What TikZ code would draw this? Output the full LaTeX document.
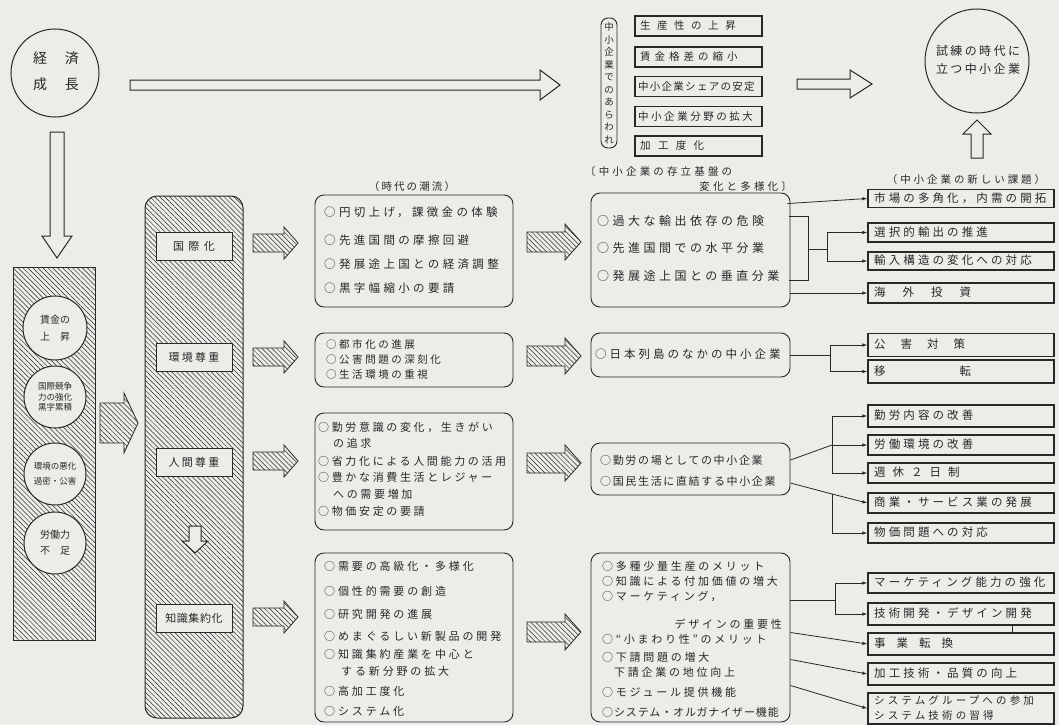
\documentclass[tikz,border=0pt]{standalone}
\usepackage{fontspec}
\newfontfamily\jp{Noto Sans CJK JP}
\usetikzlibrary{patterns.meta,arrows.meta,calc}
\definecolor{bg}{RGB}{236,236,233}
\definecolor{ink}{RGB}{40,40,40}
\newcommand\fsz[1]{\fontsize{#1}{#1}\selectfont}
\newcommand\lsp[1]{\addfontfeatures{LetterSpace=#1}}
% block arrows: style, x tail, x tip, y centre, half shaft, head length, half head
\newcommand\blkR[7]{\path[#1] ({#2},{#4-#5}) -- ({#3-#6},{#4-#5}) -- ({#3-#6},{#4-#7}) -- ({#3},{#4}) -- ({#3-#6},{#4+#7}) -- ({#3-#6},{#4+#5}) -- ({#2},{#4+#5}) -- cycle;}
% style, x centre, y tail, y tip, half shaft, head length, half head
\newcommand\blkD[7]{\path[#1] ({#2-#5},{#3}) -- ({#2-#5},{#4-#6}) -- ({#2-#7},{#4-#6}) -- ({#2},{#4}) -- ({#2+#7},{#4-#6}) -- ({#2+#5},{#4-#6}) -- ({#2+#5},{#3}) -- cycle;}
\newcommand\blkU[7]{\path[#1] ({#2-#5},{#3}) -- ({#2-#5},{#4+#6}) -- ({#2-#7},{#4+#6}) -- ({#2},{#4}) -- ({#2+#7},{#4+#6}) -- ({#2+#5},{#4+#6}) -- ({#2+#5},{#3}) -- cycle;}
\begin{document}
\begin{tikzpicture}[x=1pt,y=-1pt,
 ln/.style={anchor=west,inner sep=0pt,text=ink,text height=9pt,text depth=1.5pt},
 ctr/.style={inner sep=0pt,text=ink,text height=9pt,text depth=1.5pt},
 rbox/.style={draw=ink,line width=0.9pt,rounded corners=9pt,fill=bg,inner sep=0pt},
 kbox/.style={draw=ink,line width=1.3pt,fill=bg,inner sep=0pt,minimum width=186pt},
 tbox/.style={draw=ink,line width=1.3pt,fill=bg,inner sep=0pt,minimum width=127pt,minimum height=20pt},
 conn/.style={draw=ink,line width=0.8pt,-{Latex[length=5pt,width=3.5pt]}},
 lnk/.style={draw=ink,line width=0.8pt},
 hatch/.style={draw=ink,line width=0.8pt,pattern={Lines[angle=-45,distance=3.5pt,line width=0.5pt]},pattern color=ink},
 oarrow/.style={draw=ink,line width=1pt,fill=bg,line join=miter},
 circ/.style={circle,draw=ink,line width=1pt,fill=bg,inner sep=0pt},
]
\fill[bg] (0,0) rectangle (1059,725);
\useasboundingbox (0,0) rectangle (1059,725);

% ---------- top row ----------
\node[circ,minimum size=88pt] (keizai) at (55,73) {};
\node[ctr,font=\jp\fsz{14}] (keizai1) at (56,60) {経\hspace{18pt}済};
\node[ctr,font=\jp\fsz{14}] (keizai2) at (56,86) {成\hspace{18pt}長};

\blkR{oarrow}{130}{560}{85}{5}{20}{15}

\node[rbox,rounded corners=7pt,minimum width=16pt,minimum height=130pt] (arawa) at (609,83) {};
\node[inner sep=0pt,text=ink,align=center,font=\jp\fontsize{9.5}{12.5}\selectfont] (arawaT) at (arawa) {中\\小\\企\\業\\で\\の\\あ\\ら\\わ\\れ};

\node[tbox] (s1) at (698.5,26) {};
\node[tbox] (s2) at (698.5,57) {};
\node[tbox] (s3) at (698.5,86.5) {};
\node[tbox] (s4) at (698.5,116.5) {};
\node[tbox] (s5) at (698.5,146) {};
\node[ln,font=\jp\fsz{10.5}\lsp{62}] (s1t) at (640,26) {生産性の上昇};
\node[ln,font=\jp\fsz{10.5}\lsp{38}] (s2t) at (640,57) {賃金格差の縮小};
\node[ln,font=\jp\fsz{10.5}\lsp{12}] (s3t) at (638,86.5) {中小企業シェアの安定};
\node[ln,font=\jp\fsz{10.5}\lsp{24}] (s4t) at (638,116.5) {中小企業分野の拡大};
\node[ln,font=\jp\fsz{10.5}\lsp{70}] (s5t) at (640,146) {加工度化};

\blkR{oarrow}{797}{872}{84}{5}{22}{14}

\node[circ,minimum size=104pt] (shiren) at (977,61) {};
\node[ctr,font=\jp\fsz{12}\lsp{20}] (shiren1) at (978,52) {試練の時代に};
\node[ctr,font=\jp\fsz{12}\lsp{20}] (shiren2) at (978,70) {立つ中小企業};

\blkU{oarrow}{977}{158}{120}{6}{14}{14}

% ---------- left column ----------
\blkD{oarrow}{57}{132}{258}{7}{22}{15}
\node[hatch,line width=1pt,minimum width=82pt,minimum height=373pt] (leftcol) at (54,453.5) {};
\node[circ,minimum size=64pt] (c1) at (55,328) {};
\node[circ,minimum size=62pt] (c2) at (55,397) {};
\node[circ,minimum size=62pt] (c3) at (55,474) {};
\node[circ,minimum size=62pt] (c4) at (55,543) {};
\node[inner sep=0pt,text=ink,align=center,font=\jp\fontsize{10}{17}\selectfont] (c1t) at (c1) {賃金の\\上\hspace{10pt}昇};
\node[inner sep=0pt,text=ink,align=center,font=\jp\fontsize{8.5}{10.5}\selectfont] (c2t) at (c2) {国際競争\\力の強化\\黒字累積};
\node[inner sep=0pt,text=ink,align=center,font=\jp\fontsize{8.5}{15}\selectfont] (c3t) at (c3) {環境の悪化\\過密・公害};
\node[inner sep=0pt,text=ink,align=center,font=\jp\fontsize{10}{16}\selectfont] (c4t) at (c4) {労働力\\不\hspace{10pt}足};

\blkR{hatch}{100}{138}{423}{20}{14}{30}

% ---------- second column ----------
\node[hatch,line width=1pt,rounded corners=12pt,minimum width=98pt,minimum height=522pt] (col2) at (194,457) {};
\node[draw=ink,line width=1pt,fill=bg,minimum width=76pt,minimum height=28pt,inner sep=0pt,text=ink,font=\jp\fsz{11}\lsp{40}] (lab1) at (194,246) {国際化};
\node[draw=ink,line width=1pt,fill=bg,minimum width=76pt,minimum height=28pt,inner sep=0pt,text=ink,font=\jp\fsz{11}\lsp{20}] (lab2) at (194,357) {環境尊重};
\node[draw=ink,line width=1pt,fill=bg,minimum width=76pt,minimum height=28pt,inner sep=0pt,text=ink,font=\jp\fsz{11}\lsp{20}] (lab3) at (194,462) {人間尊重};
\node[draw=ink,line width=1pt,fill=bg,minimum width=76pt,minimum height=28pt,inner sep=0pt,text=ink,font=\jp\fsz{11}\lsp{5}] (lab4) at (194,618) {知識集約化};
\blkD{oarrow}{195}{526}{553}{6}{12}{13}

\blkR{hatch}{253}{298}{243}{9}{14}{16}
\blkR{hatch}{253}{298}{357}{9}{14}{16}
\blkR{hatch}{253}{298}{461}{9}{14}{16}
\blkR{hatch}{253}{298}{617}{9}{14}{16}

% ---------- third column ----------
\node[ctr,font=\jp\fsz{10.5}\lsp{20}] (title3) at (412,187) {（時代の潮流）};
\node[rbox,minimum width=198pt,minimum height=112pt] (t1) at (414,251) {};
\node[ln,font=\jp\fsz{11.5}\lsp{29}] (t1a) at (324,213) {○円切上げ，課徴金の体験};
\node[ln,font=\jp\fsz{11.5}\lsp{29}] (t1b) at (324,241) {○先進国間の摩擦回避};
\node[ln,font=\jp\fsz{11.5}\lsp{29}] (t1c) at (324,265) {○発展途上国との経済調整};
\node[ln,font=\jp\fsz{11.5}\lsp{29}] (t1d) at (324,289) {○黒字幅縮小の要請};

\node[rbox,minimum width=198pt,minimum height=54pt] (t2) at (414,360) {};
\node[ln,font=\jp\fsz{10.5}\lsp{24}] (t2a) at (326,345) {○都市化の進展};
\node[ln,font=\jp\fsz{10.5}\lsp{24}] (t2b) at (326,360) {○公害問題の深刻化};
\node[ln,font=\jp\fsz{10.5}\lsp{24}] (t2c) at (326,375) {○生活環境の重視};

\node[rbox,minimum width=198pt,minimum height=117pt] (t3) at (414,471.5) {};
\node[ln,font=\jp\fsz{11}\lsp{24}] (t3a) at (318,428) {○勤労意識の変化，生きがい};
\node[ln,font=\jp\fsz{11}\lsp{24}] (t3b) at (333,444) {の追求};
\node[ln,font=\jp\fsz{11}\lsp{24}] (t3c) at (318,462) {○省力化による人間能力の活用};
\node[ln,font=\jp\fsz{11}\lsp{24}] (t3d) at (318,478) {○豊かな消費生活とレジャー};
\node[ln,font=\jp\fsz{11}\lsp{24}] (t3e) at (333,495) {への需要増加};
\node[ln,font=\jp\fsz{11}\lsp{24}] (t3f) at (318,512) {○物価安定の要請};

\node[rbox,minimum width=198pt,minimum height=169pt] (t4) at (414,637.5) {};
\node[ln,font=\jp\fsz{11}\lsp{26}] (t4a) at (324,567) {○需要の高級化・多様化};
\node[ln,font=\jp\fsz{11}\lsp{26}] (t4b) at (324,592) {○個性的需要の創造};
\node[ln,font=\jp\fsz{11}\lsp{26}] (t4c) at (324,615) {○研究開発の進展};
\node[ln,font=\jp\fsz{11}\lsp{26}] (t4d) at (324,637) {○めまぐるしい新製品の開発};
\node[ln,font=\jp\fsz{11}\lsp{26}] (t4e) at (324,655) {○知識集約産業を中心と};
\node[ln,font=\jp\fsz{11}\lsp{26}] (t4f) at (341,672) {する新分野の拡大};
\node[ln,font=\jp\fsz{11}\lsp{26}] (t4g) at (324,692) {○高加工度化};
\node[ln,font=\jp\fsz{11}\lsp{26}] (t4h) at (324,712) {○システム化};

\blkR{hatch}{527}{581}{242}{10}{16}{18}
\blkR{hatch}{527}{581}{356}{10}{16}{18}
\blkR{hatch}{527}{581}{463}{10}{16}{18}
\blkR{hatch}{527}{581}{632}{10}{16}{18}

% ---------- fourth column ----------
\node[ln,font=\jp\fsz{10.5}\lsp{30}] (title4a) at (585,172) {〔中小企業の存立基盤の};
\node[ctr,anchor=east,font=\jp\fsz{10.5}\lsp{30}] (title4b) at (792,187) {変化と多様化〕};

\node[rbox,minimum width=199pt,minimum height=114pt] (f1) at (690.5,250) {};
\node[ln,font=\jp\fsz{12}\lsp{29}] (f1a) at (597,222) {○過大な輸出依存の危険};
\node[ln,font=\jp\fsz{12}\lsp{29}] (f1b) at (597,249) {○先進国間での水平分業};
\node[ln,font=\jp\fsz{12}\lsp{29}] (f1c) at (597,277) {○発展途上国との垂直分業};

\node[rbox,minimum width=199pt,minimum height=44pt] (f2) at (690.5,355) {};
\node[ln,font=\jp\fsz{11.5}\lsp{26}] (f2a) at (595,355) {○日本列島のなかの中小企業};

\node[rbox,minimum width=199pt,minimum height=52pt] (f3) at (690.5,469) {};
\node[ln,font=\jp\fsz{11}\lsp{15}] (f3a) at (600,461) {○勤労の場としての中小企業};
\node[ln,font=\jp\fsz{11}\lsp{15}] (f3b) at (600,482) {○国民生活に直結する中小企業};

\node[rbox,minimum width=199pt,minimum height=169pt] (f4) at (690.5,637.5) {};
\node[ln,font=\jp\fsz{11}\lsp{25}] (f4a) at (602,567) {○多種少量生産のメリット};
\node[ln,font=\jp\fsz{11}\lsp{25}] (f4b) at (602,582) {○知識による付加価値の増大};
\node[ln,font=\jp\fsz{11}\lsp{25}] (f4c) at (602,597) {○マーケティング，};
\node[ctr,anchor=east,font=\jp\fsz{11}\lsp{25}] (f4d) at (782,625) {デザインの重要性};
\node[ln,font=\jp\fsz{11}\lsp{25}] (f4e) at (602,640) {○“小まわり性”のメリット};
\node[ln,font=\jp\fsz{11}\lsp{25}] (f4f) at (602,658) {○下請問題の増大};
\node[ln,font=\jp\fsz{11}\lsp{25}] (f4g) at (614,673) {下請企業の地位向上};
\node[ln,font=\jp\fsz{11}\lsp{25}] (f4h) at (602,693) {○モジュール提供機能};
\node[ln,font=\jp\fsz{11}\lsp{8}] (f4i) at (602,713) {○システム・オルガナイザー機能};

% ---------- fifth column ----------
\node[ctr,font=\jp\fsz{10.5}\lsp{28}] (title5) at (966,180) {（中小企業の新しい課題）};
\node[kbox,minimum height=18pt] (k1) at (961,198.5) {};
\node[kbox,minimum height=19pt] (k2) at (961,232.5) {};
\node[kbox,minimum height=18pt] (k3) at (961,261) {};
\node[kbox,minimum height=20pt] (k4) at (961,293) {};
\node[kbox,minimum height=23pt] (k5) at (961,345) {};
\node[kbox,minimum height=23pt] (k6) at (961,371.5) {};
\node[kbox,minimum height=22pt] (k7) at (961,416) {};
\node[kbox,minimum height=20pt] (k8) at (961,445) {};
\node[kbox,minimum height=20pt] (k9) at (961,473) {};
\node[kbox,minimum height=20pt] (k10) at (961,503) {};
\node[kbox,minimum height=20pt] (k11) at (961,533) {};
\node[kbox,minimum height=20pt] (k12) at (961,583) {};
\node[kbox,minimum height=22pt] (k13) at (961,614) {};
\node[kbox,minimum height=22pt] (k14) at (961,644) {};
\node[kbox,minimum height=22pt] (k15) at (961,674) {};
\node[kbox,minimum height=31pt] (k16) at (961,708.5) {};

\node[ln,font=\jp\fsz{11.5}\lsp{27}] (k1t) at (874,198.5) {市場の多角化，内需の開拓};
\node[ln,font=\jp\fsz{11.5}\lsp{27}] (k2t) at (874,232.5) {選択的輸出の推進};
\node[ln,font=\jp\fsz{11.5}\lsp{27}] (k3t) at (874,261) {輸入構造の変化への対応};
\node[ln,font=\jp\fsz{11.5}\lsp{27}] (k4t) at (874,293) {海\hspace{17pt}外\hspace{17pt}投\hspace{17pt}資};
\node[ln,font=\jp\fsz{11.5}\lsp{27}] (k5t) at (874,345) {公\hspace{15pt}害\hspace{15pt}対\hspace{15pt}策};
\node[ln,font=\jp\fsz{11.5}\lsp{27}] (k6t) at (874,371.5) {移\hspace{74pt}転};
\node[ln,font=\jp\fsz{11.5}\lsp{27}] (k7t) at (874,416) {勤労内容の改善};
\node[ln,font=\jp\fsz{11.5}\lsp{27}] (k8t) at (874,445) {労働環境の改善};
\node[ln,font=\jp\fsz{11.5}\lsp{27}] (k9t) at (874,473) {週\hspace{7pt}休\hspace{7pt}２\hspace{7pt}日\hspace{7pt}制};
\node[ln,font=\jp\fsz{11.5}\lsp{27}] (k10t) at (874,503) {商業・サービス業の発展};
\node[ln,font=\jp\fsz{11.5}\lsp{27}] (k11t) at (874,533) {物価問題への対応};
\node[ln,font=\jp\fsz{11.5}\lsp{27}] (k12t) at (874,583) {マーケティング能力の強化};
\node[ln,font=\jp\fsz{11.5}\lsp{27}] (k13t) at (874,614) {技術開発・デザイン開発};
\node[ln,font=\jp\fsz{11.5}\lsp{27}] (k14t) at (874,644) {事\hspace{11pt}業\hspace{11pt}転\hspace{11pt}換};
\node[ln,font=\jp\fsz{11.5}\lsp{27}] (k15t) at (874,674) {加工技術・品質の向上};
\node[ln,font=\jp\fsz{10.5}\lsp{30}] (k16a) at (874,701) {システムグループへの参加};
\node[ln,font=\jp\fsz{10.5}\lsp{30}] (k16b) at (874,716) {システム技術の習得};

% ---------- connectors ----------
% row 1
\draw[conn] ([xshift=-3pt,yshift=-11pt]f1.north east) -- (k1.west);
\coordinate (b1) at (808,249);
\coordinate (b2) at (827,249);
\draw[lnk] ([xshift=-1pt,yshift=-24pt]f1.north east) -| (b1) |- ([xshift=-1pt,yshift=27pt]f1.south east);
\draw[lnk] (b1) -- (b2);
\draw[conn] (b2) |- (k2.west);
\draw[conn] (b2) |- (k3.west);
\draw[conn] (f1.east |- k4.west) -- (k4.west);
% row 2
\coordinate (b3) at (830,355);
\draw[lnk] (f2.east) -- (b3);
\draw[conn] (b3) |- (k5.west);
\draw[conn] (b3) |- (k6.west);
% row 3
\coordinate (b4) at (832,445);
\coordinate (b5) at (832,494);
\draw[lnk] ([yshift=9pt]f3.east) -- (b4);
\draw[conn] (b4) -- (k8.west);
\draw[conn] (b4) |- (k7.west);
\draw[conn] (b4) |- (k9.west);
\draw[lnk] ([yshift=-14pt]f3.east) -- (b5);
\draw[conn] (b5) -- (k10.west);
\draw[conn] (b5) |- (k11.west);
% row 4
\coordinate (b6) at (835,600);
\draw[lnk] (f4.east |- b6) -- (b6);
\draw[conn] (b6) |- (k12.west);
\draw[conn] (b6) |- (k13.west);
\draw[conn] ([yshift=5pt]f4.east) -- (k14.west);
\draw[conn] ([yshift=-22pt]f4.east) -- (k15.west);
\draw[conn] ([yshift=-48pt]f4.east) -- (k16.west);
\draw[lnk] (k13.south -| 1012,0) -- (k14.north -| 1012,0);
\end{tikzpicture}
\end{document}
